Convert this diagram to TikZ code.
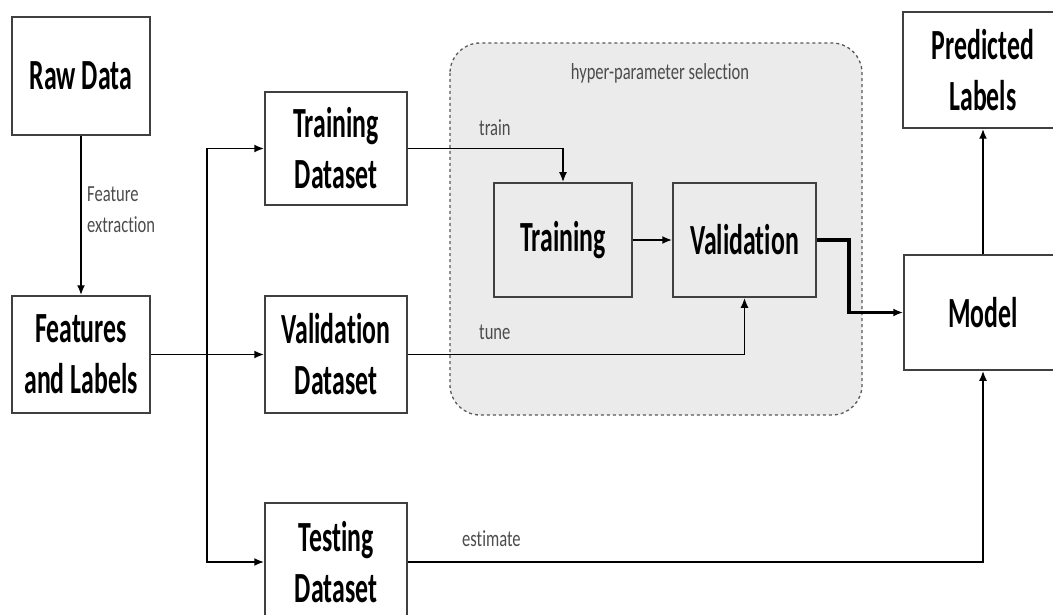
\documentclass[tikz,border=0pt]{standalone}
\usepackage{fontspec}
\newfontfamily\boxfont{Carlito}[FakeStretch=0.6,Ligatures=NoCommon]
\newfontfamily\lblfont{Carlito}[FakeStretch=0.72,Ligatures=NoCommon]
\usepackage{tikz}
\usetikzlibrary{positioning,arrows.meta,calc}

\begin{document}
\begin{tikzpicture}[x=1pt,y=-1pt,
  box/.style={draw=black!75,line width=1.5pt,fill=white,align=center,inner sep=0pt,
    font=\boxfont\bfseries\fontsize{43}{51}\selectfont},
  lbl/.style={text=black!70,inner sep=0pt,font=\lblfont\fontsize{23}{31}\selectfont},
  link/.style={line width=1.9pt,-{Latex[length=10pt,width=8pt]}}]
\useasboundingbox (0,0) rectangle (1053,615);

% hyper-parameter region
\draw[dashed,draw=black!65,line width=1.3pt,fill=black!8,rounded corners=30pt] (450,43) rectangle (862,415);
\node[lbl] (hptitle) at (660,73) {hyper-parameter selection};

% boxes
\node[box,minimum width=138pt,minimum height=118pt] (raw) at (81,76) {Raw Data};
\node[box,minimum width=138pt,minimum height=117pt] (feat) at (81,354.5) {Features\\and Labels};
\node[box,minimum width=142pt,minimum height=113pt] (trainset) at (336,148.5) {Training\\Dataset};
\node[box,minimum width=142pt,minimum height=117pt] (valset) at (336,354.5) {Validation\\Dataset};
\node[box,minimum width=142pt,minimum height=118pt] (testset) at (336,562) {Testing\\Dataset};
\node[box,fill=black!8,minimum width=138pt,minimum height=114pt] (training) at (563,240) {Training};
\node[box,fill=black!8,minimum width=143pt,minimum height=114pt] (validation) at (744.5,240) {Validation};
\node[box,minimum width=158pt,minimum height=115pt] (model) at (983,312.5) {Model};
\node[box,minimum width=160pt,minimum height=116pt] (predicted) at (983,70) {Predicted\\Labels};

% connectors
\coordinate (split) at (207,354.5);
\draw[link] (raw) -- (feat);
\node[lbl,anchor=west,align=left] (fextract) at (87,210) {Feature\\extraction};
\draw[link] (feat) -- (valset);
\draw[link] (split) |- (trainset);
\draw[link] (split) |- (testset);
\draw[link] (trainset.east) -| (training.north);
\node[lbl,anchor=west] (trainlbl) at (479,128) {train};
\draw[link] (training) -- (validation);
\draw[link] (valset.east) -| (validation.south);
\node[lbl,anchor=west] (tunelbl) at (479,332) {tune};
\draw[link,line width=3.5pt] (validation.east) -- ++(32,0) |- (model.west);
\draw[link] (model) -- (predicted);
\draw[link] (testset.east) -| (model.south);
\node[lbl,anchor=west] (estlbl) at (462,539) {estimate};
\end{tikzpicture}
\end{document}
